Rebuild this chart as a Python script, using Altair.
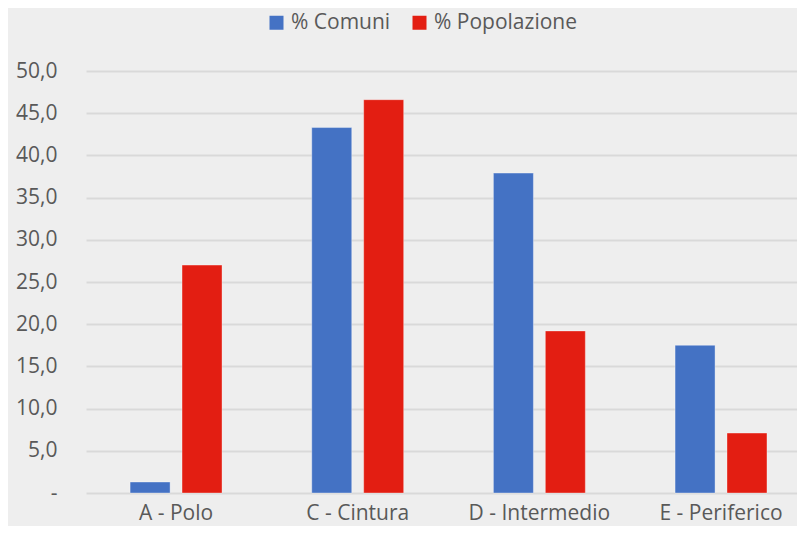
import altair as alt
import pandas as pd

categories = ["A - Polo", "C - Cintura", "D - Intermedio", "E - Periferico"]
series_names = ["% Comuni", "% Popolazione"]
comuni = [1.3, 43.3, 37.9, 17.5]
popolazione = [27.0, 46.6, 19.2, 7.1]
colors = ["#4472C4", "#E31E12"]
y_ticks = [0, 5, 10, 15, 20, 25, 30, 35, 40, 45, 50]

rows = []
for c, v in zip(categories, comuni):
    rows.append({"cat": c, "serie": series_names[0], "val": v})
for c, v in zip(categories, popolazione):
    rows.append({"cat": c, "serie": series_names[1], "val": v})
df = pd.DataFrame(rows)

FONT = "Open Sans"
TXT = "#595959"
FS = 21

chart = alt.Chart(df).mark_bar(stroke="#ffffff", strokeOpacity=0.35, strokeWidth=1).encode(
    x=alt.X("cat:N", sort=categories, title=None,
            scale=alt.Scale(paddingInner=0.494, paddingOuter=0.204, align=0.595),
            axis=alt.Axis(labelAngle=0, labelFontSize=FS, labelColor=TXT, labelFont=FONT,
                          ticks=False, domain=False, grid=False, labelPadding=9)),
    xOffset=alt.XOffset("serie:N", sort=series_names,
                        scale=alt.Scale(paddingInner=0.23, paddingOuter=0)),
    y=alt.Y("val:Q", title=None, scale=alt.Scale(domain=[0, 50], nice=False),
            axis=alt.Axis(values=y_ticks, ticks=False, domain=False, grid=True,
                          gridColor="#d9d9d9", gridWidth=2,
                          labelFontSize=FS, labelColor=TXT, labelFont=FONT, labelPadding=29,
                          labelExpr="datum.value == 0 ? '-\u00a0\u00a0' : replace(format(datum.value, '.1f'), '.', ',')")),
    color=alt.Color("serie:N", sort=series_names,
                    scale=alt.Scale(domain=series_names, range=colors),
                    legend=alt.Legend(title=None, orient="none", legendX=180, legendY=-59,
                                      direction="horizontal", symbolType="square",
                                      symbolSize=196, symbolStrokeWidth=0,
                                      labelFontSize=FS, labelColor=TXT, labelFont=FONT,
                                      labelOffset=4, columnPadding=18)),
).properties(
    width=711,
    height=422,
    autosize=alt.AutoSizeParams(type="none"),
    padding={"left": 78, "top": 63, "right": 0, "bottom": 33},
    background="#eeeeee",
).configure_view(stroke=None)

chart.save("out.html", embed_options={"renderer": "svg", "actions": False})
